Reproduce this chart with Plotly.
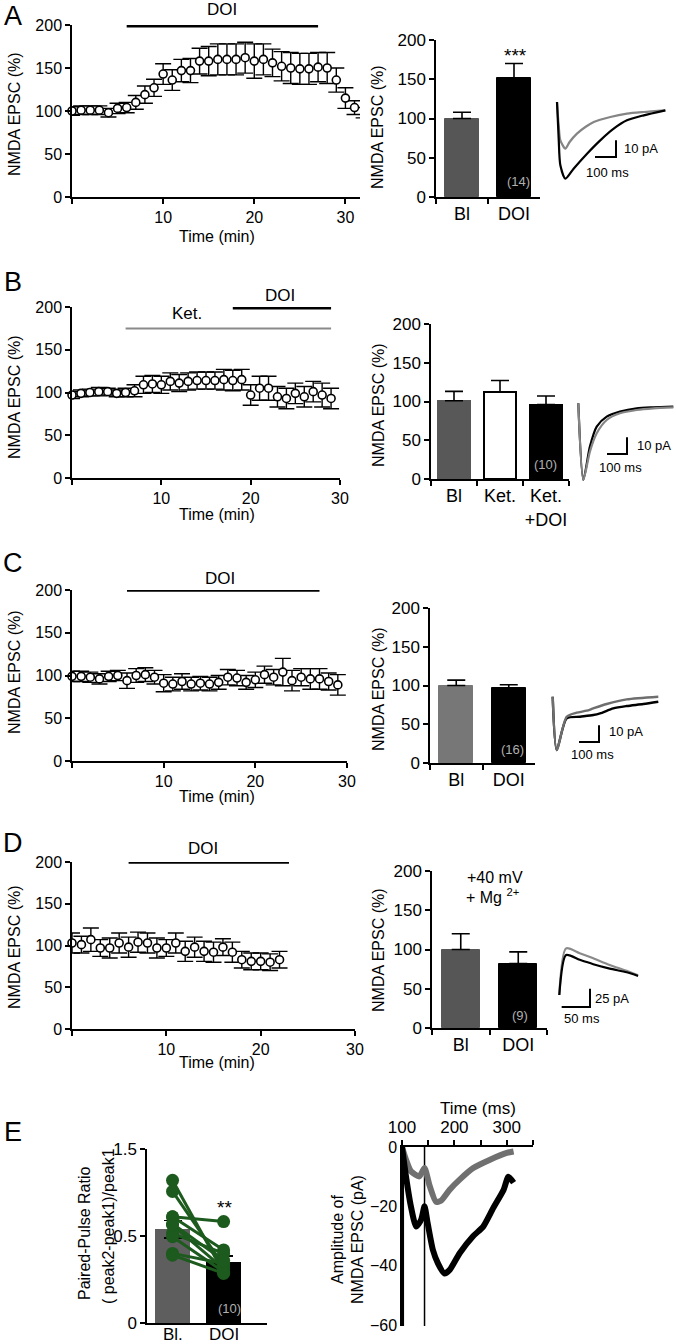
import plotly.graph_objects as go

W, H = 677, 1344
FONT = "Liberation Sans, Arial, Helvetica, sans-serif"

# ---------------- DATA ----------------
# Panel A time course (min, % baseline, SEM)
A_time = [0, 1, 2, 3, 4, 5, 6, 7, 8, 9, 10, 11, 12, 13, 14, 15, 16, 17, 18, 19, 20,
          21, 22, 23, 24, 25, 26, 27, 28, 29, 30, 31, 32]
A_val = [100, 101, 101, 101, 98, 103, 104, 110, 119, 127, 143, 136, 147, 147, 158, 158, 160,
         160, 160, 162, 158, 160, 156, 152, 150, 149, 149, 151, 150, 136, 115, 104, 98]
A_err = [5, 5, 5, 5, 5, 6, 6, 8, 10, 10, 12, 12, 13, 14, 15, 17, 18, 18, 18, 18, 20, 18,
         16, 17, 18, 18, 18, 17, 18, 14, 12, 8, 6]
A_doi = [6, 27]
A_cats = ["Bl", "DOI"]
A_bar = [100, 152]
A_bar_err = [8, 18]
A_n = "(14)"

# Panel B
B_time = [0, 1, 2, 3, 4, 5, 6, 7, 8, 9, 10, 11, 12, 13, 14, 15, 16, 17, 18, 19, 20,
          21, 22, 23, 24, 25, 26, 27, 28, 29]
B_val = [97, 99, 100, 101, 101, 99, 100, 102, 109, 110, 109, 113, 111, 113, 114, 114, 114,
         115, 114, 115, 97, 105, 105, 95, 93, 99, 95, 101, 97, 93]
B_err = [4, 4, 4, 5, 4, 4, 5, 7, 10, 10, 10, 10, 10, 10, 10, 10, 10, 12, 12, 12, 12, 14,
         14, 12, 12, 12, 12, 12, 14, 12]
B_ket = [6, 29]
B_doi = [18, 29]
B_cats = ["Bl", "Ket.", "Ket.<br>+DOI"]
B_bar = [101, 112, 96]
B_bar_err = [12, 15, 11]
B_n = "(10)"

# Panel C
C_time = [0, 1, 2, 3, 4, 5, 6, 7, 8, 9, 10, 11, 12, 13, 14, 15, 16, 17, 18, 19, 20,
          21, 22, 23, 24, 25, 26, 27, 28, 29]
C_val = [99, 99, 98, 96, 99, 100, 94, 100, 101, 98, 91, 90, 93, 90, 91, 90, 92, 98, 97, 92,
         95, 101, 98, 104, 94, 98, 96, 96, 93, 89]
C_err = [6, 6, 6, 6, 6, 6, 9, 8, 8, 8, 10, 8, 9, 8, 8, 8, 8, 9, 9, 8, 9, 10, 9, 16, 12, 10,
         12, 12, 10, 12]
C_doi = [6, 27]
C_cats = ["Bl", "DOI"]
C_bar = [100, 97]
C_bar_err = [7, 4]
C_n = "(16)"

# Panel D
D_time = [0, 1, 2, 3, 4, 5, 6, 7, 8, 9, 10, 11, 12, 13, 14, 15, 16, 17, 18, 19, 20, 21, 22]
D_val = [103, 101, 107, 97, 97, 103, 98, 104, 103, 97, 97, 103, 93, 98, 93, 92, 98, 92, 83,
         81, 81, 80, 83]
D_err = [12, 10, 14, 10, 12, 12, 12, 12, 12, 12, 10, 12, 12, 12, 12, 12, 10, 12, 10, 10, 10,
         10, 10]
D_doi = [6, 23]
D_cats = ["Bl", "DOI"]
D_bar = [100, 82]
D_bar_err = [20, 15]
D_n = "(9)"

# Panel E paired-pulse ratio
E_cats = ["Bl.", "DOI"]
E_bar = [0.54, 0.35]
E_bar_err = [0.05, 0.035]
E_pairs_bl = [0.82, 0.756, 0.61, 0.61, 0.563, 0.515, 0.496, 0.40, 0.39, 0.57]
E_pairs_doi = [0.29, 0.33, 0.583, 0.42, 0.313, 0.40, 0.294, 0.342, 0.285, 0.36]
E_n = "(10)"

# Representative traces (ms, pA)
A_tr_gray_ms = [0, 8, 16, 40, 60, 95, 135, 175, 254, 333, 413, 516]
A_tr_gray_pa = [0, -14, -23, -28, -24, -19, -15, -12, -9, -7, -6, -5]
A_tr_blk_ms = [0, 8, 16, 40, 79, 143, 206, 270, 333, 413, 516]
A_tr_blk_pa = [0, -22, -38, -46, -40, -31, -23, -16, -11, -8, -5]

B_tr_ms = [0, 25, 58, 92, 142, 208, 292, 375, 475]
B_tr_blk_pa = [0, -46, -26, -14, -8, -5, -3, -2.4, -2]
B_tr_gray_pa = [0, -46, -29, -18, -10, -6, -4, -3, -2.4]

C_tr_gray_ms = [0, 20, 70, 120, 170, 203, 270, 370, 528]
C_tr_gray_pa = [0, -32, -12, -9.6, -8.4, -7, -4.4, -1.6, 0]
C_tr_blk_ms = [0, 20, 70, 137, 203, 237, 303, 370, 453, 528]
C_tr_blk_pa = [0, -32, -13, -12, -11, -10, -7, -5.6, -4.4, -3]

D_tr_ms = [0, 12, 36, 60, 89, 119, 139]
D_tr_blk_pa = [0, 54.5, 48, 42, 36, 31, 26]
D_tr_gray_pa = [0, 63.6, 57, 50, 41, 33, 27]

E_tr_gray_ms = [100, 107.7, 117, 133, 143, 152.6, 165, 175, 191, 210, 236, 268, 300, 313]
E_tr_gray_pa = [0, -4.3, -8.2, -9.9, -7.1, -13, -18.5, -18, -14.4, -11, -7.1, -4.3, -2, -1.5]
E_tr_blk_ms = [100, 107.7, 117, 127, 136.5, 143, 149, 159, 168.6, 181, 191, 210, 236, 255,
               274, 294, 303, 313]
E_tr_blk_pa = [0, -10, -20, -26.8, -24.5, -20, -25.7, -34.7, -39.2, -42.6, -41.4, -35.8,
               -30, -26.8, -20.6, -14.4, -10, -12]
E_stim_ms = [100.8, 102.5, 143]

# ---------------- HELPERS ----------------
fig = go.Figure()
layout = {}
annotations = []


def dom_x(a, b):
    return [a / W, b / W]


def dom_y(top, bot):
    return [1 - bot / H, 1 - top / H]


def base_axis():
    return dict(showline=True, linecolor="black", linewidth=1.5, showgrid=False,
                zeroline=False, ticks="outside", ticklen=5, tickwidth=1.5,
                tickcolor="black", fixedrange=True, automargin=False, tickangle=0,
                tickfont=dict(family=FONT, size=15, color="black"))


def add_axes(n, xdom, ydom, xopts, yopts):
    xk = "xaxis" if n == 1 else f"xaxis{n}"
    yk = "yaxis" if n == 1 else f"yaxis{n}"
    xr = "x" if n == 1 else f"x{n}"
    yr = "y" if n == 1 else f"y{n}"
    xa = base_axis()
    xa.update(domain=dom_x(*xdom), anchor=yr)
    xa.update(xopts)
    ya = base_axis()
    ya.update(domain=dom_y(*ydom), anchor=xr)
    ya.update(yopts)
    layout[xk] = xa
    layout[yk] = ya
    return xr, yr


def ann(text, x, y, size=15, color="black", angle=0, xanchor="center", **kw):
    d = dict(text=text, x=x / W, y=1 - y / H, xref="paper", yref="paper",
             showarrow=False, xanchor=xanchor, yanchor="middle", textangle=angle,
             font=dict(family=FONT, size=size, color=color))
    d.update(kw)
    annotations.append(d)


MINOR0 = dict(tickvals=[0], ticks="outside", ticklen=5, tickwidth=1.5, tickcolor="black",
              showgrid=False)


def time_panel(n, xdom, ydom, xmax, t, v, e):
    xr, yr = add_axes(n, xdom, ydom,
                      dict(range=[0, xmax], tickvals=[10, 20, 30],
                           ticktext=["10", "20", "30"], minor=MINOR0,
                           tickfont=dict(family=FONT, size=16, color="black")),
                      dict(range=[0, 200], tickvals=[0, 50, 100, 150, 200],
                           tickfont=dict(family=FONT, size=16, color="black")))
    fig.add_trace(go.Scatter(
        x=t, y=v, mode="markers", xaxis=xr, yaxis=yr, cliponaxis=False,
        marker=dict(symbol="circle", size=8, color="white",
                    line=dict(color="black", width=1.6)),
        error_y=dict(type="data", array=e, color="black", thickness=1.4, width=8)))
    return xr, yr


def drug_line(xr, yr, span, level, color, width=2.5):
    fig.add_trace(go.Scatter(x=span, y=[level, level], mode="lines", xaxis=xr, yaxis=yr,
                             line=dict(color=color, width=width), hoverinfo="skip"))


def bar_panel(n, xdom, ydom, cats, vals, errs, fills, lines, bw, lw):
    xr, yr = add_axes(n, xdom, ydom,
                      dict(type="category", range=[-0.5, len(cats) - 0.5],
                           tickson="boundaries",
                           tickfont=dict(family=FONT, size=18, color="black")),
                      dict(range=[0, 200], tickvals=[0, 50, 100, 150, 200],
                           tickfont=dict(family=FONT, size=17, color="black")))
    fig.add_trace(go.Bar(
        x=cats, y=vals, xaxis=xr, yaxis=yr, width=bw,
        marker=dict(color=fills, line=dict(color=lines, width=lw)),
        error_y=dict(type="data", symmetric=False, array=errs,
                     arrayminus=[0 for _ in errs], color="black", thickness=1.6, width=9)))
    return xr, yr


def trace_panel(n, xdom, ydom, origin, msp, pap, series, corner, len_ms, len_pa):
    ox, oy = origin
    xr_ = [(xdom[0] - ox) * msp, (xdom[1] - ox) * msp]
    yr_ = [-(ydom[1] - oy) * pap, (oy - ydom[0]) * pap]
    xk = f"xaxis{n}"
    yk = f"yaxis{n}"
    xr, yr = f"x{n}", f"y{n}"
    layout[xk] = dict(domain=dom_x(*xdom), range=xr_, visible=False, anchor=yr,
                      fixedrange=True, automargin=False)
    layout[yk] = dict(domain=dom_y(*ydom), range=yr_, visible=False, anchor=xr,
                      fixedrange=True, automargin=False)
    for xs, ys, col, wd in series:
        fig.add_trace(go.Scatter(x=xs, y=ys, mode="lines", xaxis=xr, yaxis=yr,
                                 line=dict(color=col, width=wd, shape="spline",
                                           smoothing=0.7), hoverinfo="skip"))
    cx = (corner[0] - ox) * msp
    cy = (oy - corner[1]) * pap
    fig.add_trace(go.Scatter(x=[cx - len_ms, cx, cx], y=[cy, cy, cy + len_pa],
                             mode="lines", xaxis=xr, yaxis=yr,
                             line=dict(color="black", width=2), hoverinfo="skip"))


GRAY_TR = "#858585"

# ---------------- PANEL A ----------------
xr, yr = time_panel(1, (72, 360), (25, 197), 31.6, A_time, A_val, A_err)
drug_line(xr, yr, A_doi, 198.5, "black", 2.5)
ann("DOI", 222, 10, 17)
ann("A", 13, 16, 27)
ann("NMDA EPSC (%)", 14, 114, 16, angle=-90)
ann("Time (min)", 217, 237, 16)

xr, yr = bar_panel(2, (436, 540), (40, 197), A_cats, A_bar, A_bar_err,
                   ["#565656", "black"], ["#565656", "black"], 0.65, 1)
ann("NMDA EPSC (%)", 377, 127, 16, angle=-90)
ann("***", 515, 56, 19)
ann(A_n, 518, 182, 13, color="#b0b0b0")

trace_panel(3, (545, 672), (95, 188), (557, 102), 100 / 21, 0.6,
            [(A_tr_gray_ms, A_tr_gray_pa, GRAY_TR, 2.2),
             (A_tr_blk_ms, A_tr_blk_pa, "black", 2.2)],
            (616, 157), 100, 10)
ann("10 pA", 641, 148, 13)
ann("100 ms", 607, 172, 13)

# ---------------- PANEL B ----------------
xr, yr = time_panel(4, (72, 340), (307, 478), 30, B_time, B_val, B_err)
drug_line(xr, yr, B_ket, 175, "#8a8a8a", 2)
drug_line(xr, yr, B_doi, 198.5, "black", 2.5)
ann("Ket.", 187, 313, 17)
ann("DOI", 280, 295, 17)
ann("B", 13, 282, 27)
ann("NMDA EPSC (%)", 14, 397, 16, angle=-90)
ann("Time (min)", 217, 514, 16)

xr, yr = bar_panel(5, (431, 569), (324, 479), B_cats, B_bar, B_bar_err,
                   ["#585858", "white", "black"], ["#585858", "black", "black"], 0.7, 2)
ann("NMDA EPSC (%)", 378, 405, 16, angle=-90)
ann(B_n, 545, 465, 13, color="#b0b0b0")

trace_panel(6, (570, 677), (395, 490), (578.3, 403.3), 5, 0.6,
            [(B_tr_ms, B_tr_blk_pa, "black", 2.2),
             (B_tr_ms, B_tr_gray_pa, GRAY_TR, 2.2)],
            (627, 454), 100, 10)
ann("10 pA", 654, 445, 13)
ann("100 ms", 620, 467, 13)

# ---------------- PANEL C ----------------
xr, yr = time_panel(7, (72, 347), (590, 761), 30, C_time, C_val, C_err)
drug_line(xr, yr, C_doi, 199, "black", 1.8)
ann("DOI", 220, 578, 17)
ann("C", 13, 563, 27)
ann("NMDA EPSC (%)", 14, 672, 16, angle=-90)
ann("Time (min)", 217, 797, 16)

xr, yr = bar_panel(8, (430, 535), (608, 763), C_cats, C_bar, C_bar_err,
                   ["#777777", "black"], ["#777777", "black"], 0.65, 1)
ann("NMDA EPSC (%)", 378, 689, 16, angle=-90)
ann(C_n, 512, 749, 13, color="#b0b0b0")

trace_panel(9, (545, 665), (690, 760), (552.7, 696.7), 5, 0.6,
            [(C_tr_blk_ms, C_tr_blk_pa, "black", 2.4),
             (C_tr_gray_ms, C_tr_gray_pa, "#6e6e6e", 2.4)],
            (599, 742), 100, 10)
ann("10 pA", 626, 731, 13)
ann("100 ms", 592, 754, 13)

# ---------------- PANEL D ----------------
xr, yr = time_panel(10, (72, 355), (862, 1029), 30, D_time, D_val, D_err)
drug_line(xr, yr, D_doi, 199, "black", 1.8)
ann("DOI", 203, 848, 17)
ann("D", 13, 843, 27)
ann("NMDA EPSC (%)", 14, 947, 16, angle=-90)
ann("Time (min)", 217, 1062, 16)

xr, yr = bar_panel(11, (432, 547), (871, 1028), D_cats, D_bar, D_bar_err,
                   ["#565656", "black"], ["#565656", "black"], 0.66, 1)
ann("NMDA EPSC (%)", 378, 950, 16, angle=-90)
ann(D_n, 520, 1015, 13, color="#b0b0b0")
ann("+40 mV", 495, 877, 16)
ann("+ Mg <sup>2+</sup>", 492, 896, 16)

trace_panel(12, (550, 645), (940, 1010), (559.3, 995), 50 / (85 / 3), 25 / (55 / 3),
            [(D_tr_ms, D_tr_gray_pa, "#8a8a8a", 2.2),
             (D_tr_ms, D_tr_blk_pa, "black", 2.2)],
            (590, 1007), 50, 25)
ann("25 pA", 612, 998, 13)
ann("50 ms", 582, 1018, 13)

# ---------------- PANEL E ----------------
xr, yr = add_axes(13, (147, 267), (1149, 1323),
                  dict(type="category", range=[-0.5, 1.85], ticks="",
                       showticklabels=False),
                  dict(range=[0, 1.0], tickvals=[0, 0.5, 1.0],
                       ticktext=["0", "0.5", "1.5"],
                       tickfont=dict(family=FONT, size=17, color="black")))
fig.add_trace(go.Bar(
    x=E_cats, y=E_bar, xaxis=xr, yaxis=yr, width=0.7,
    marker=dict(color=["#5e5e5e", "black"], line=dict(width=0)),
    error_y=dict(type="data", array=E_bar_err, color="black", thickness=1.6, width=9)))
for b, d in zip(E_pairs_bl, E_pairs_doi):
    fig.add_trace(go.Scatter(x=E_cats, y=[b, d], mode="lines+markers", xaxis=xr, yaxis=yr,
                             line=dict(color="#1d5a1d", width=3),
                             marker=dict(size=13, color="#1d5a1d"), hoverinfo="skip"))
ann(E_cats[0], 173, 1334, 17)
ann(E_cats[1], 224, 1334, 17)
ann("**", 224, 1207, 19)
ann(E_n, 229, 1308, 13, color="#b0b0b0")
ann("E", 13, 1132, 27)
ann("Paired-Pulse Ratio", 84, 1233, 16, angle=-90)
ann("( peak2-peak1)/peak1", 108, 1226, 16, angle=-90)

xr, yr = add_axes(14, (402, 533), (1147, 1326),
                  dict(range=[100, 350], side="top",
                       tickvals=[100, 200, 300],
                       ticktext=["100", "200", "300"],
                       minor=dict(tickvals=[150, 250, 350], ticks="outside", ticklen=5,
                                  tickwidth=1.5, tickcolor="black", showgrid=False),
                       tickfont=dict(family=FONT, size=17, color="black")),
                  dict(range=[-60.3, 0], tickvals=[0, -20, -40, -60], ticks="",
                       tickfont=dict(family=FONT, size=16, color="black")))
for s in E_stim_ms:
    fig.add_trace(go.Scatter(x=[s, s], y=[0, -60.3], mode="lines", xaxis=xr, yaxis=yr,
                             line=dict(color="black", width=1.5), hoverinfo="skip"))
fig.add_trace(go.Scatter(x=E_tr_gray_ms, y=E_tr_gray_pa, mode="lines", xaxis=xr, yaxis=yr,
                         line=dict(color="#707070", width=6, shape="spline", smoothing=0.6),
                         hoverinfo="skip"))
fig.add_trace(go.Scatter(x=E_tr_blk_ms, y=E_tr_blk_pa, mode="lines", xaxis=xr, yaxis=yr,
                         line=dict(color="black", width=6, shape="spline", smoothing=0.6),
                         hoverinfo="skip"))
ann("Time (ms)", 478, 1108, 17)
ann("Amplitude of", 337, 1240, 16, angle=-90)
ann("NMDA EPSC (pA)", 357, 1240, 16, angle=-90)

layout.update(dict(template="none", width=W, height=H,
                   margin=dict(l=0, r=0, t=0, b=0, autoexpand=False),
                   paper_bgcolor="white", plot_bgcolor="white", showlegend=False,
                   bargap=0, annotations=annotations,
                   font=dict(family=FONT, size=15, color="black")))
fig.update_layout(**layout)
fig.write_html("out.html", config={"displayModeBar": False},
               post_script="document.body.style.margin='0px';"
                           "document.body.style.padding='0px';"
                           "document.body.style.overflow='hidden';")
